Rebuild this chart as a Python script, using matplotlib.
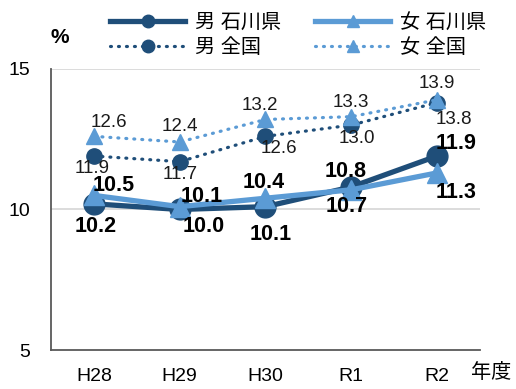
import matplotlib
matplotlib.use("Agg")
import matplotlib.pyplot as plt
from matplotlib.lines import Line2D

plt.rcParams['font.family'] = ['Liberation Sans', 'Noto Sans CJK JP', 'DejaVu Sans']

years = ["H28", "H29", "H30", "R1", "R2"]
male_ishikawa = [10.2, 10.0, 10.1, 10.8, 11.9]
female_ishikawa = [10.5, 10.1, 10.4, 10.7, 11.3]
male_national = [11.9, 11.7, 12.6, 13.0, 13.8]
female_national = [12.6, 12.4, 13.2, 13.3, 13.9]

DARK = "#1F4E79"
LIGHT = "#5B9BD5"
DOT = (0, (0.3, 2.2))

fig = plt.figure(figsize=(5.16, 3.89), dpi=100)
ax = fig.add_axes([0.099, 0.100, 0.831, 0.723])
x = list(range(len(years)))

ax.plot(x, male_ishikawa, color=DARK, lw=3.8, marker='o', ms=15, zorder=3)
ax.plot(x, female_ishikawa, color=LIGHT, lw=3.8, marker='^', ms=15, zorder=4)
ax.plot(x, male_national, color=DARK, lw=2.3, ls=DOT,
        dash_capstyle='round', marker='o', ms=11, zorder=3)
ax.plot(x, female_national, color=LIGHT, lw=2.3, ls=DOT,
        dash_capstyle='round', marker='^', ms=11, zorder=4)

ax.set_xlim(-0.5, 4.5)
ax.set_ylim(5, 15)
ax.set_yticks([5, 10, 15])
ax.set_xticks(x)
ax.set_xticklabels(years)
ax.tick_params(length=0, labelsize=14)
ax.tick_params(axis='x', pad=13)
ax.tick_params(axis='y', pad=15)
for sp in ['top', 'right']:
    ax.spines[sp].set_visible(False)
ax.spines['left'].set_color('#595959')
ax.spines['bottom'].set_color('#595959')
ax.spines['left'].set_linewidth(1.3)
ax.spines['bottom'].set_linewidth(1.3)
for yv in (10, 15):
    ax.axhline(yv, color='#D9D9D9', lw=1.3, zorder=1)

# value labels (dx, dy in points)
bold_kw = dict(fontsize=15.5, fontweight='bold', ha='center', va='center', color='black', zorder=6)
norm_kw = dict(fontsize=13.5, ha='center', va='center', color='#1a1a1a', zorder=6)

mi_off = [(1, -16), (17, -12), (4, -20), (-4, 11), (14, 9)]
fi_off = [(14, 7), (16, 7), (-1, 11), (-3, -12), (14, -14)]
mn_off = [(-1, -9), (0, -9), (10, -9), (4, -10), (12, -12)]
fn_off = [(11, 10), (0, 11), (-4, 10), (0, 10), (0, 12)]

for series, offs, kw in [(male_ishikawa, mi_off, bold_kw), (female_ishikawa, fi_off, bold_kw),
                         (male_national, mn_off, norm_kw), (female_national, fn_off, norm_kw)]:
    for i, (v, (dx, dy)) in enumerate(zip(series, offs)):
        ax.annotate(f"{v:.1f}", (i, v), xytext=(dx, dy), textcoords='offset points', **kw)

fig.text(0.116, 0.903, "%", fontsize=15, fontweight='bold', ha='center', va='center')
fig.text(0.951, 0.043, "年度", fontsize=14.5, ha='center', va='center')

handles = [
    Line2D([], [], color=DARK, lw=3.8, marker='o', ms=9),
    Line2D([], [], color=DARK, lw=2.3, ls=DOT, dash_capstyle='round', marker='o', ms=9),
    Line2D([], [], color=LIGHT, lw=3.8, marker='^', ms=9),
    Line2D([], [], color=LIGHT, lw=2.3, ls=DOT, dash_capstyle='round', marker='^', ms=9),
]
labels = ["男 石川県", "男 全国", "女 石川県", "女 全国"]
fig.legend(handles, labels, ncol=2, loc='center', bbox_to_anchor=(0.578, 0.91),
           frameon=False, fontsize=14.5, handlelength=3.7, columnspacing=1.7,
           labelspacing=0.3, handletextpad=0.5)

fig.savefig("out.png", dpi=100)
